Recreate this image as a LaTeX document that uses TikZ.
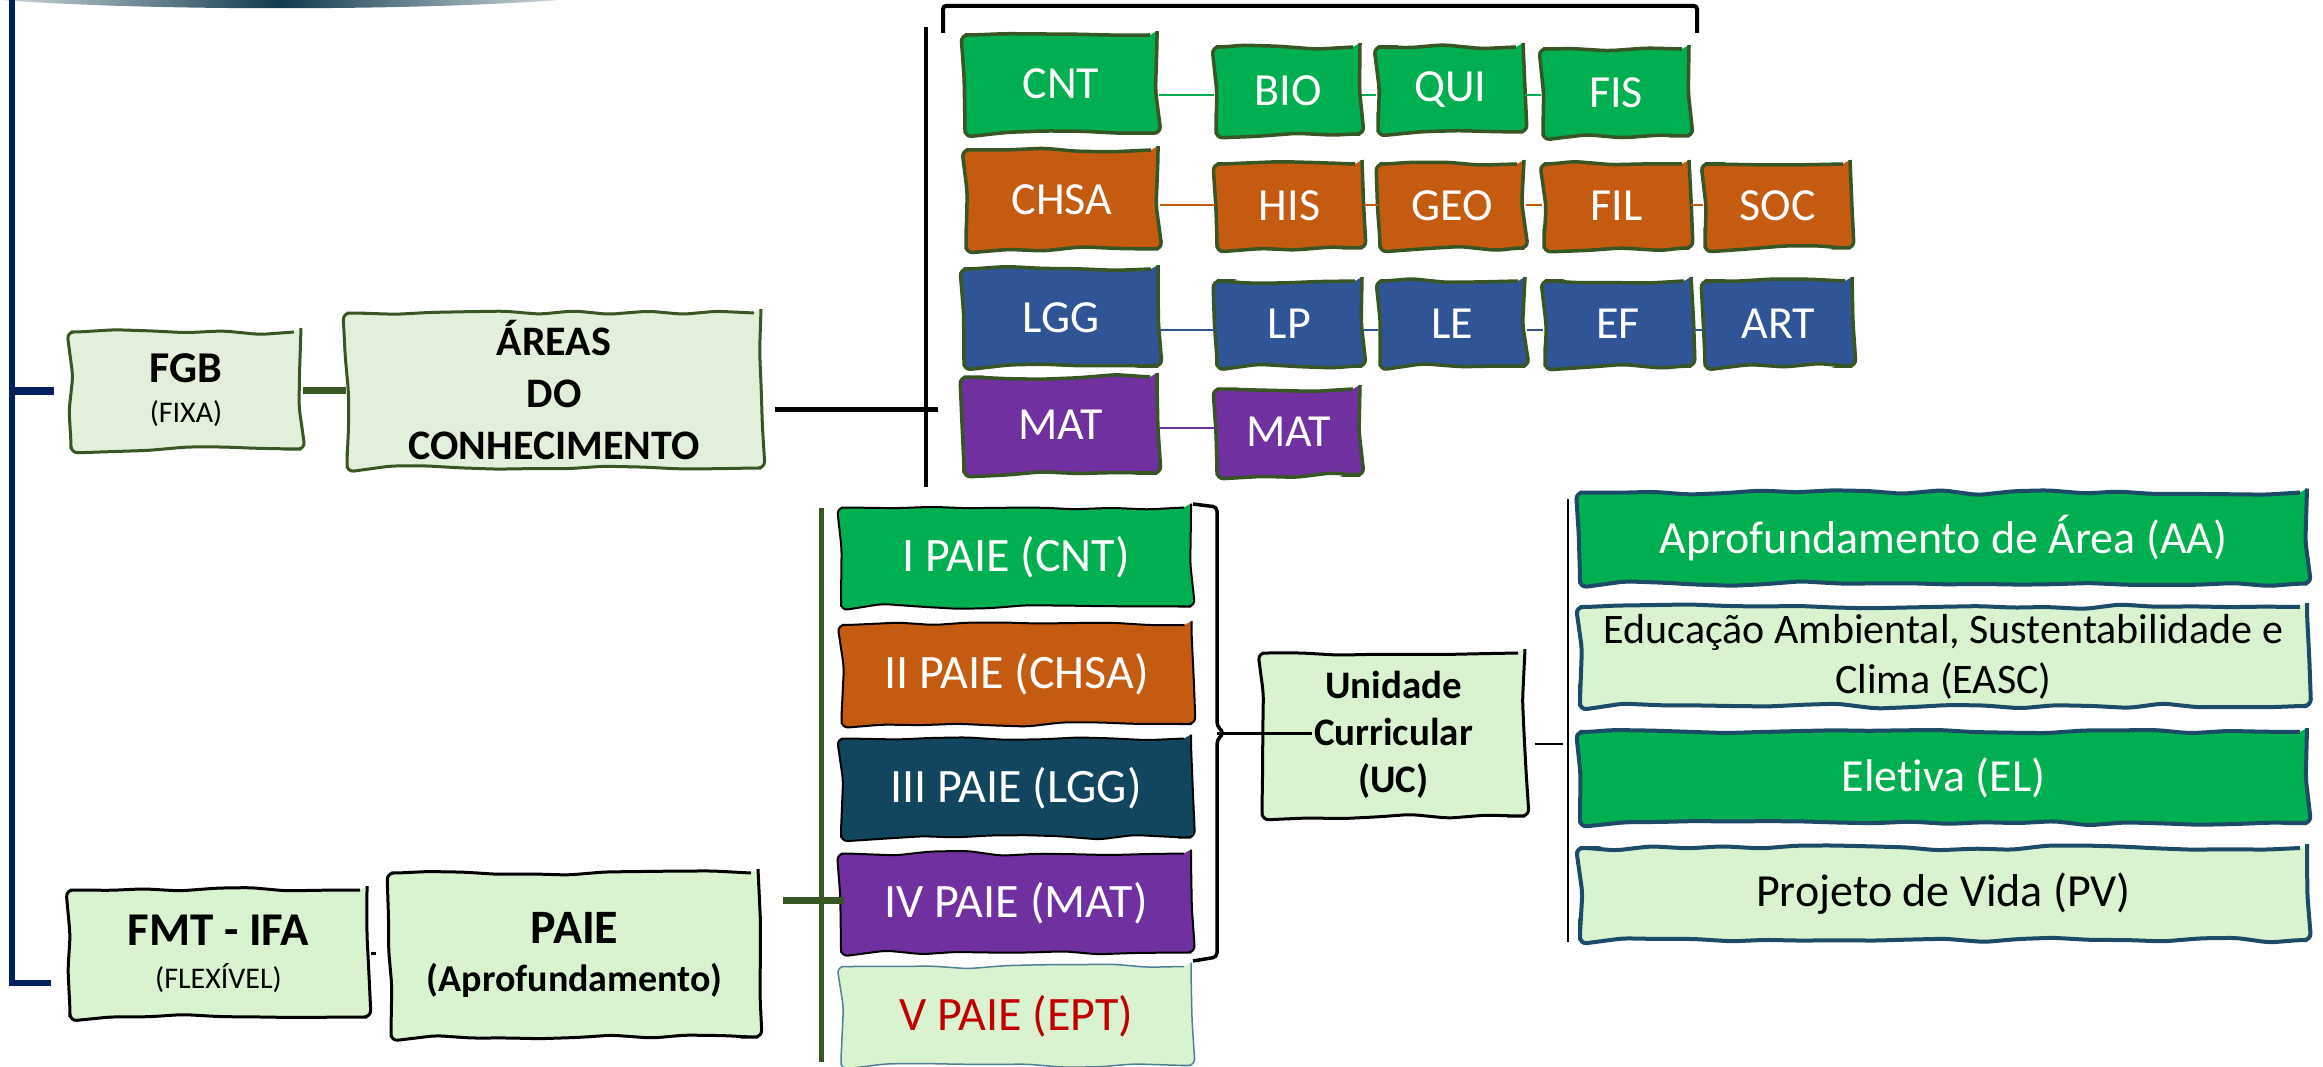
\documentclass[tikz,border=0pt]{standalone}
\usepackage{fontspec}
\setmainfont{Carlito}[Ligatures=NoCommon]
\usetikzlibrary{decorations.pathmorphing}
\definecolor{cgreen}{HTML}{00B050}
\definecolor{corange}{HTML}{C55A11}
\definecolor{cblue}{HTML}{2F5597}
\definecolor{cteal}{HTML}{12465F}
\definecolor{cpurple}{HTML}{7030A0}
\definecolor{lgA}{HTML}{E2EFDA}
\definecolor{lgB}{HTML}{D9F2D0}
\definecolor{bdgreen}{HTML}{375623}
\definecolor{bdteal}{HTML}{1B4B66}
\definecolor{navy}{HTML}{002060}
\definecolor{redtxt}{HTML}{C00000}
\definecolor{topteal}{HTML}{103A4D}
\definecolor{vteal}{HTML}{4E8096}
\begin{document}
\begin{tikzpicture}[x=1pt,y=-1pt,
  sk/.style={decorate,decoration={random steps,segment length=36pt,amplitude=2.6pt},rounded corners=7pt},
  sz/.style 2 args={minimum width=#1pt,minimum height=#2pt},
  box/.style={sk,inner sep=0pt,align=center},
  subj/.style={box,draw=bdgreen,line width=3.5pt,text=white,font=\fontsize{46}{50}\selectfont},
  paiebox/.style={box,draw=black,line width=2pt,text=white,font=\fontsize{48}{52}\selectfont,sz={350}{99}},
  ucitem/.style={box,draw=bdteal,line width=4pt,sz={727}{91}},
  lightA/.style={box,fill=lgA,draw=bdgreen,line width=3pt},
  lightB/.style={box,fill=lgB,draw=black,line width=3pt},
  rowline/.style={line width=2.5pt},
]
\pgfmathsetseed{11}
\useasboundingbox (0,0) rectangle (2323,1067);
% top decorative lens
\shade[left color=topteal!20, right color=topteal!20, middle color=topteal] (0,0) .. controls (150,11) and (410,11) .. (560,0) -- cycle;

% ---------- top group: areas of knowledge ----------
\node[subj,fill=cgreen,sz={192}{98}] (cnt) at (1061,84) {CNT};
\node[subj,fill=cgreen,sz={144}{87}] (bio) at (1288,90.5) {BIO};
\node[subj,fill=cgreen,sz={145}{85}] (qui) at (1450.5,89.5) {QUI};
\node[subj,fill=cgreen,sz={146}{87}] (fis) at (1616,92.5) {FIS};
\node[subj,fill=corange,sz={192}{99}] (chsa) at (1062,199.5) {CHSA};
\node[subj,fill=corange,sz={145}{84}] (his) at (1289.5,206) {HIS};
\node[subj,fill=corange,sz={144}{84}] (geo) at (1452,206) {GEO};
\node[subj,fill=corange,sz={145}{84}] (fil) at (1616.5,206) {FIL};
\node[subj,fill=corange,sz={145}{84}] (soc) at (1777.5,206) {SOC};
\node[subj,fill=cblue,sz={194}{97}] (lgg) at (1061,317.5) {LGG};
\node[subj,fill=cblue,sz={145}{85}] (lp) at (1289.5,323.5) {LP};
\node[subj,fill=cblue,sz={145}{85}] (le) at (1452.5,323.5) {LE};
\node[subj,fill=cblue,sz={146}{85}] (ef) at (1618,323.5) {EF};
\node[subj,fill=cblue,sz={147}{85}] (art) at (1778.5,323.5) {ART};
\node[subj,fill=cpurple,sz={193}{96}] (mat) at (1060.5,425) {MAT};
\node[subj,fill=cpurple,sz={143}{86}] (mat2) at (1288.5,432) {MAT};

\coordinate (r1) at (0,95);
\coordinate (r2) at (0,205);
\coordinate (r3) at (0,330);
\coordinate (r4) at (0,428);
\draw[rowline,cgreen] (cnt.east |- r1) -- (bio.west |- r1) (bio.east |- r1) -- (qui.west |- r1) (qui.east |- r1) -- (fis.west |- r1);
\draw[rowline,corange] (chsa.east |- r2) -- (his.west |- r2) (his.east |- r2) -- (geo.west |- r2) (geo.east |- r2) -- (fil.west |- r2) (fil.east |- r2) -- (soc.west |- r2);
\draw[rowline,cblue] (lgg.east |- r3) -- (lp.west |- r3) (lp.east |- r3) -- (le.west |- r3) (le.east |- r3) -- (ef.west |- r3) (ef.east |- r3) -- (art.west |- r3);
\draw[rowline,cpurple] (mat.east |- r4) -- (mat2.west |- r4);

% top bracket and bar
\draw[line width=4pt,rounded corners=3pt] (943,33) -- (943,6) -- (1697,6) -- (1697,33);
\coordinate (bartop) at (926,27);
\coordinate (barbot) at (926,487);
\draw[line width=4pt] (bartop) -- (barbot);

% ---------- left part ----------
\node[lightA,sz={230}{117},font=\fontsize{44}{40}\selectfont] (fgb) at (186,390.5)
  {\textbf{FGB}\\{\fontsize{30}{40}\selectfont (FIXA)}};
\node[lightA,sz={414}{155},font=\fontsize{42}{52}\selectfont\bfseries] (areas) at (554,390.5)
  {ÁREAS\\DO\\CONHECIMENTO};
\node[lightB,sz={297}{127},font=\fontsize{47}{43}\selectfont] (fmt) at (218.5,953.5)
  {\textbf{FMT - IFA}\\{\fontsize{30}{43}\selectfont (FLEXÍVEL)}};
\node[lightB,sz={367}{164},font=\fontsize{48}{48}\selectfont\bfseries] (paie) at (574.5,955)
  {PAIE\\{\fontsize{38}{48}\selectfont (Aprofundamento)}};

\draw[bdgreen,line width=7pt] (fgb.east) -- (areas.west);
\draw[line width=5pt] ([xshift=12pt,yshift=-18.5pt]areas.east) -- ([xshift=12pt,yshift=-18.5pt]areas.east -| bartop);
\draw[line width=2.5pt] ([xshift=2pt]fmt.east) -- ([xshift=7pt]fmt.east);

% navy spine
\coordinate (spine) at (12,0);
\coordinate (fmtend) at ([xshift=-18pt,yshift=-29.5pt]fmt.west);
\draw[navy,line width=6pt] (spine) -- (spine |- fmtend) -- (fmtend);
\draw[navy,line width=8pt] (spine |- fgb.west) -- ([xshift=-16pt]fgb.west);

% ---------- PAIE column ----------
\node[paiebox,fill=cgreen] (p1) at (1016,557) {I PAIE (CNT)};
\node[paiebox,fill=corange] (p2) at (1016.5,674.5) {II PAIE (CHSA)};
\node[paiebox,fill=cteal] (p3) at (1016,788) {III PAIE (LGG)};
\node[paiebox,fill=cpurple] (p4) at (1016,903) {IV PAIE (MAT)};
\node[paiebox,fill=lgB,draw=vteal,line width=1.5pt,text=redtxt] (p5) at (1016,1016) {V PAIE (EPT)};

\coordinate (gtop) at (821,508);
\coordinate (gbot) at (821,1062);
\draw[bdgreen,line width=5pt] (gtop) -- (gbot);
\draw[bdgreen,line width=7pt] ([xshift=23pt,yshift=55pt]paie.east) -- ([xshift=23pt,yshift=55pt]paie.east -| gtop);

% bracket to UC
\node[lightB,sz={263}{163},font=\fontsize{39}{47}\selectfont\bfseries] (uc) at (1393.5,734.5)
  {Unidade\\Curricular\\(UC)};
\coordinate (cusp) at (1217,733);
\draw[line width=3.5pt,rounded corners=4pt] (1193,504) -- (1217,507) -- (1217,726) -- (1224,733) -- (1217,740) -- (1217,957) -- (1193,961);
\draw[line width=3pt] (cusp) -- ([xshift=-81.5pt]uc.center |- cusp);

% ---------- UC items ----------
\node[ucitem,fill=cgreen,text=white,font=\fontsize{46}{50}\selectfont] (aa) at (1943.5,538) {Aprofundamento de Área (AA)};
\node[ucitem,fill=lgB,sz={727}{99},font=\fontsize{42}{50}\selectfont] (easc) at (1943.5,656.5) {Educação Ambiental, Sustentabilidade e\\Clima (EASC)};
\node[ucitem,fill=cgreen,text=white,font=\fontsize{46}{50}\selectfont] (el) at (1943.5,777.5) {Eletiva (EL)};
\node[ucitem,fill=lgB,sz={727}{92},font=\fontsize{46}{50}\selectfont] (pv) at (1943.5,894) {Projeto de Vida (PV)};

\coordinate (rtop) at (1568,499);
\coordinate (rbot) at (1568,942);
\draw[line width=2.5pt] (rtop) -- (rbot);
\coordinate (ucc) at ([xshift=8pt,yshift=-9.5pt]uc.east);
\draw[line width=2.5pt] (ucc) -- ([xshift=-5pt]ucc -| rtop);
\end{tikzpicture}
\end{document}
